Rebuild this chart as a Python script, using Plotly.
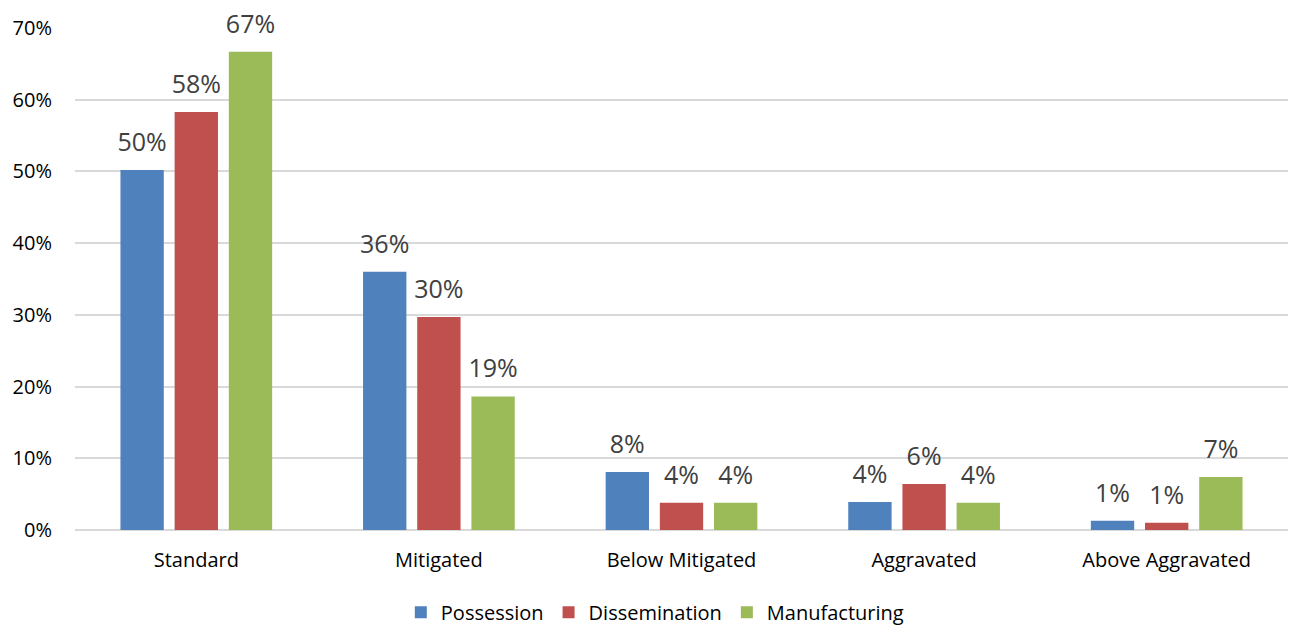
import plotly.graph_objects as go

categories = ["Standard", "Mitigated", "Below Mitigated", "Aggravated", "Above Aggravated"]
possession = [0.502, 0.360, 0.081, 0.039, 0.013]
dissemination = [0.583, 0.297, 0.038, 0.064, 0.010]
manufacturing = [0.667, 0.186, 0.038, 0.038, 0.074]
series_names = ["Possession", "Dissemination", "Manufacturing"]
colors = ["#4F81BD", "#C0504D", "#9BBB59"]

FONT = "'Open Sans', sans-serif"

fig = go.Figure()
for name, vals, col in zip(series_names, [possession, dissemination, manufacturing], colors):
    fig.add_trace(go.Bar(
        x=categories, y=vals, name=name,
        marker=dict(color=col, line=dict(width=0)),
        cliponaxis=False, hoverinfo="skip",
    ))
# data labels: grouped text points aligned with the bars
for name, vals in zip(series_names, [possession, dissemination, manufacturing]):
    fig.add_trace(go.Scatter(
        x=categories, y=vals, mode="markers+text", showlegend=False,
        text=[f"{round(v * 100):.0f}%" for v in vals],
        textposition="top center",
        marker=dict(size=19, opacity=0),
        textfont=dict(size=25, color="#404040", family=FONT),
        cliponaxis=False, hoverinfo="skip",
    ))

fig.update_layout(
    width=1291, height=626,
    paper_bgcolor="white", plot_bgcolor="white",
    margin=dict(l=75, r=3, t=28, b=96, autoexpand=False),
    barmode="group", bargap=0.33, bargroupgap=0.2,
    scattermode="group", scattergap=0.33,
    font=dict(family=FONT, size=20, color="#000000"),
    legend=dict(orientation="h", x=0.478, xanchor="center", y=-0.125, yanchor="top",
                font=dict(size=20, color="#000000"), traceorder="normal"),
    yaxis=dict(range=[0, 0.7], dtick=0.1, tickformat=".0%", showgrid=True,
               gridcolor="#D9D9D9", gridwidth=1.5, zeroline=True, zerolinecolor="#D9D9D9",
               zerolinewidth=1.5, ticks="", tickfont=dict(size=20), ticklabelstandoff=22,
               automargin=False),
    xaxis=dict(showline=False, ticks="", tickfont=dict(size=20), ticklabelstandoff=16,
               automargin=False),
)

fig.write_html("out.html")
